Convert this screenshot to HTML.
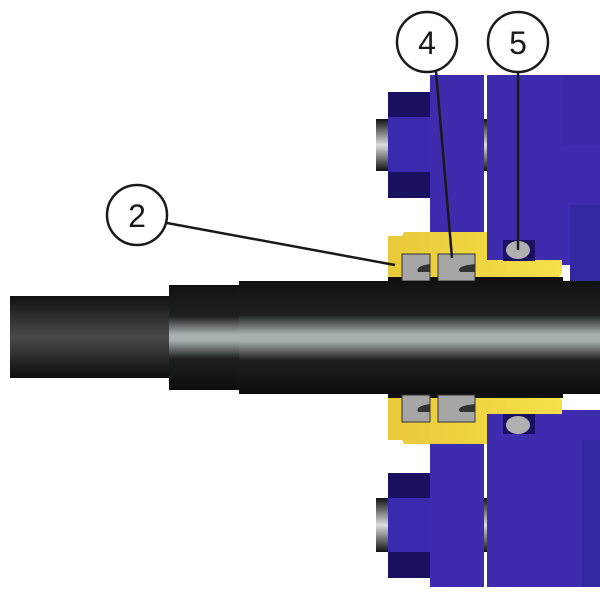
<!DOCTYPE html>
<html><head><style>html,body{margin:0;padding:0;background:#fff;}svg{display:block}</style></head>
<body>
<svg width="600" height="600" viewBox="0 0 600 600" xmlns="http://www.w3.org/2000/svg">
<defs>
<linearGradient id="rod" x1="0" y1="0" x2="0" y2="1">
<stop offset="0" stop-color="#111"/><stop offset="0.5" stop-color="#4a4a4a"/><stop offset="1" stop-color="#0c0c0c"/></linearGradient>
<linearGradient id="shaft" x1="0" y1="0" x2="0" y2="1">
<stop offset="0" stop-color="#111"/><stop offset="0.3" stop-color="#1e2020"/><stop offset="0.47" stop-color="#a8b0b0"/><stop offset="0.53" stop-color="#a8b0b0"/><stop offset="0.7" stop-color="#1e2020"/><stop offset="1" stop-color="#0c0c0c"/></linearGradient>
<linearGradient id="bolt" x1="0" y1="0" x2="0" y2="1">
<stop offset="0" stop-color="#111"/><stop offset="0.5" stop-color="#ddd"/><stop offset="1" stop-color="#111"/></linearGradient>
<linearGradient id="yel" x1="0" y1="0" x2="1" y2="0">
<stop offset="0" stop-color="#e8c93a"/><stop offset="1" stop-color="#f6e04a"/></linearGradient>
</defs>
<rect x="376" y="119" width="14" height="52" fill="url(#bolt)"/>
<rect x="376" y="498" width="14" height="54" fill="url(#bolt)"/>
<rect x="482" y="119" width="7" height="52" fill="url(#bolt)"/>
<rect x="482" y="498" width="7" height="54" fill="url(#bolt)"/>
<rect x="388" y="92" width="44" height="106" fill="#1a1060"/>
<rect x="388" y="117" width="44" height="55" fill="#3a2ab0"/>
<rect x="388" y="473" width="44" height="105" fill="#1a1060"/>
<rect x="388" y="498" width="44" height="54" fill="#3a2ab0"/>
<rect x="430" y="75" width="54" height="160" fill="#3d2cae"/>
<rect x="430" y="440" width="54" height="147" fill="#3d2cae"/>
<rect x="487" y="75" width="113" height="190" fill="#3d2cae"/>
<rect x="562" y="75" width="38" height="70" fill="#3a2aa8"/>
<rect x="570" y="205" width="30" height="80" fill="#3328a0"/>
<rect x="487" y="410" width="113" height="177" fill="#3d2cae"/>
<rect x="582" y="440" width="18" height="147" fill="#3328a0"/>
<path d="M388 236 L402 236 L404 232 L487 232 L487 260 L562 260 L562 274 L555 280 L388 280 Z" fill="url(#yel)"/>
<path d="M388 440 L402 440 L404 444 L487 444 L487 414 L562 414 L562 400 L555 394 L388 394 Z" fill="url(#yel)"/>
<rect x="388" y="277" width="175" height="6" fill="#111"/>
<rect x="388" y="392" width="175" height="6" fill="#111"/>
<rect x="503" y="240" width="32" height="21" fill="#1a1060"/>
<ellipse cx="518" cy="250" rx="12" ry="9" fill="#b0b0b0"/>
<rect x="503" y="414" width="32" height="20" fill="#1a1060"/>
<ellipse cx="518" cy="425" rx="12" ry="9" fill="#b0b0b0"/>
<g fill="#a6a6a6" stroke="#333" stroke-width="1">
<rect x="402" y="254" width="28" height="27"/><rect x="438" y="254" width="37" height="27"/>
<rect x="402" y="395" width="28" height="27"/><rect x="438" y="395" width="37" height="27"/>
</g>
<g fill="#333">
<path d="M430 264 Q415 266 418 272 L430 272 Z"/><path d="M475 264 Q455 266 460 272 L475 272 Z"/>
<path d="M430 404 Q415 406 418 412 L430 412 Z"/><path d="M475 404 Q455 406 460 412 L475 412 Z"/>
</g>
<rect x="10" y="296" width="160" height="82" fill="url(#rod)"/>
<rect x="169" y="285" width="72" height="105" fill="url(#shaft)"/>
<rect x="239" y="281" width="361" height="113" fill="url(#shaft)"/>
<g stroke="#1a1a1a" stroke-width="2.5" fill="none">
<line x1="167" y1="223" x2="395" y2="265"/>
<line x1="436" y1="71" x2="452" y2="258"/>
<line x1="518" y1="72" x2="518" y2="250"/>
</g>
<g stroke="#1a1a1a" stroke-width="2.5" fill="#fff">
<circle cx="137" cy="215" r="30"/><circle cx="427" cy="42" r="30"/><circle cx="518" cy="42" r="30"/>
</g>
<g font-family="Liberation Sans, sans-serif" font-size="32" fill="#1a1a1a" text-anchor="middle">
<text x="137" y="227">2</text><text x="427" y="54">4</text><text x="518" y="54">5</text>
</g>
</svg>
</body></html>
